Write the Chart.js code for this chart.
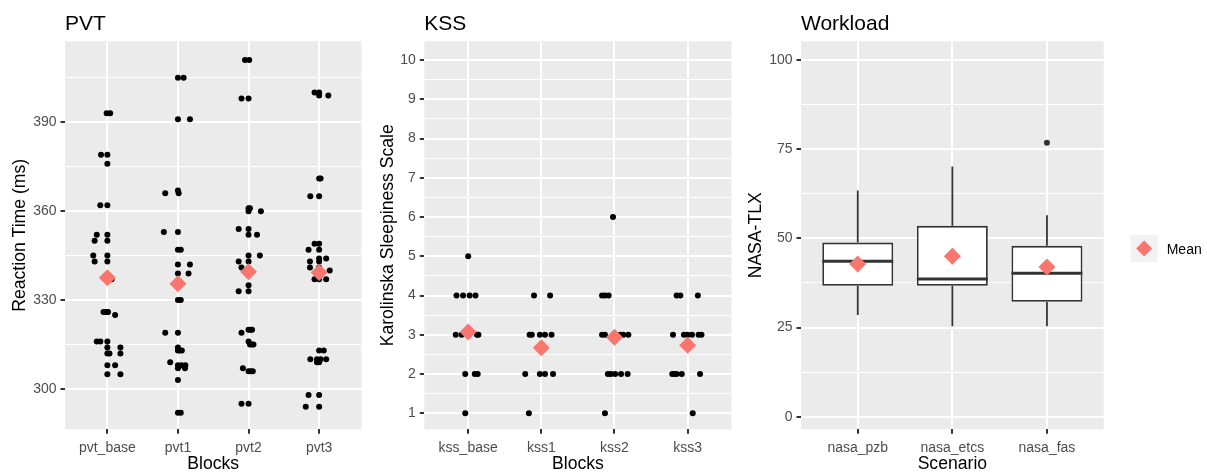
<!DOCTYPE html>
<html>
<head>
<meta charset="utf-8">
<script src="https://cdn.jsdelivr.net/npm/chart.js@4.4.1/dist/chart.umd.min.js"></script>
<style>
  body { margin: 0; background: #fff; }
  #wrap { position: relative; width: 1207px; height: 475px; }
  canvas { position: absolute; top: 0; }
</style>
</head>
<body>
<div id="wrap">
  <canvas id="pvt" width="370" height="475" style="left:0"></canvas>
  <canvas id="kss" width="370" height="475" style="left:370px"></canvas>
  <canvas id="nasa" width="467" height="475" style="left:740px"></canvas>
</div>
<script>
// PVT reaction times per block, each point is [ms, horizontal jitter]
const pvtBlocks = ['pvt_base', 'pvt1', 'pvt2', 'pvt3'];
const pvtBase = [[393,-0.01],[393,0.04],[379,-0.09],[379,0],[376,0],[362,-0.1],[362,0],[352,-0.15],[352,0],
  [350,-0.18],[350,0],[345,-0.2],[345,0],[343,-0.18],[343,0],[337,0.06],[326,-0.055],[326,-0.02],[326,0.01],
  [325,0.11],[316,-0.15],[316,-0.1],[316,0],[314,0],[314,0.185],[312,0],[312,0.03],[312,0.185],[308,0],
  [308,0.11],[305,0],[305,0.185]];
const pvt1 = [[405,0],[405,0.08],[391,0],[391,0.17],[366,-0.18],[367,0],[366,0.01],[353,-0.2],[353,0],
  [347,0],[347,0.04],[342,0],[342,0.17],[339,0],[339,0.15],[334.5,0],[330,0],[330,0.04],[319,-0.18],[319,0],
  [314,0],[313,0.02],[313,0.055],[313,0],[309,-0.11],[308,0],[308,0.05],[308,0.105],[307,0],[307,0.1],
  [303,0],[292,0],[292,0.04]];
const pvt2 = [[411,-0.05],[411,0.01],[398,-0.1],[398,0],[361,0],[361,0.02],[360,0],[360,0.175],[354,-0.14],
  [354,0],[352,0],[352,0.12],[345,0],[345,0.16],[343,-0.14],[343,0],[341,-0.1],[335,0],[333,-0.14],[333,0],
  [320,0],[320,0.03],[320,0.05],[319,-0.1],[316,0],[315,0.02],[315,0.05],[315,0.07],[307,-0.08],[306,0],
  [306,0.03],[306,0.06],[295,-0.1],[295,0]];
const pvt3 = [[400,-0.065],[400,0],[399,0],[399,0.13],[371,0],[371,0.02],[365,-0.125],[365,0],[349,-0.065],
  [349,0],[347,-0.15],[347,0],[344,0],[344,0.1],[343,-0.13],[343,0],[341,-0.13],[341,0],[340,0.15],
  [337,-0.065],[337,0],[337,0.1],[313,0],[313,0.065],[310,-0.125],[310,-0.03],[310,0.02],[310,0.1],
  [309,-0.03],[309,0],[298,-0.15],[298,0],[294,-0.19],[294,0]];
const pvtTicks = [300, 330, 360, 390];
const pvtMinor = [315, 345, 375, 405];

// KSS ratings per block, [score, horizontal jitter]
const kssBlocks = ['kss_base', 'kss1', 'kss2', 'kss3'];
const kssBase = [[5,0],[4,-0.16],[4,-0.07],[4,0.02],[4,0.1],[3,-0.17],[3,-0.09],[3,0],[3,0.12],[3,0.14],
  [2,-0.04],[2,0.09],[2,0.13],[1,-0.04]];
const kss1 = [[4,-0.1],[4,0.12],[3,-0.16],[3,-0.13],[3,-0.02],[3,0.05],[3,0.14],[2,-0.22],[2,-0.02],
  [2,0.05],[2,0.16],[1,-0.17]];
const kss2 = [[6,-0.02],[4,-0.17],[4,-0.13],[4,-0.08],[3,-0.17],[3,-0.13],[3,0.08],[3,0.12],[3,0.19],
  [2,-0.09],[2,-0.05],[2,0.01],[2,0.09],[2,0.18],[1,-0.13]];
const kss3 = [[4,-0.15],[4,-0.1],[4,0.14],[3,-0.2],[3,-0.05],[3,0],[3,0.06],[3,0.15],[3,0.19],[2,-0.21],
  [2,-0.18],[2,-0.15],[2,-0.08],[2,0.17],[1,0.07]];
const kssTicks = [1, 2, 3, 4, 5, 6, 7, 8, 9, 10];
const kssMinor = [1.5, 2.5, 3.5, 4.5, 5.5, 6.5, 7.5, 8.5, 9.5];

// NASA-TLX box summaries per scenario
const nasaScenarios = ['nasa_pzb', 'nasa_etcs', 'nasa_fas'];
const nasaLower = [28.5, 25.4, 25.4];
const nasaQ1 = [36.7, 36.7, 32.2];
const nasaMedian = [43.6, 38.6, 40.2];
const nasaQ3 = [48.8, 53.5, 47.9];
const nasaUpper = [63.4, 70.1, 56.5];
const nasaMean = [42.8, 45.0, 42.0];
const nasaOutliers = [[], [], [76.8]];
const nasaTicks = [0, 25, 50, 75, 100];
const nasaMinor = [12.5, 37.5, 62.5, 87.5];

const FONT = '"Liberation Sans", Arial, sans-serif';
const GREY = '#4d4d4d';
const MEAN_RED = '#F8766D';
const DOT_R = 3;
const MEAN_R = 8.5;
const PANEL_TOP = 41.3, PANEL_BOTTOM = 429.3, H = 475;
Chart.defaults.font.family = FONT;

const mean = arr => arr.reduce((s, p) => s + p[0], 0) / arr.length;

// grey panel behind the grid
const panelBg = {
  id: 'panelBg',
  beforeDraw(chart) {
    const { ctx, chartArea: a } = chart;
    ctx.save();
    ctx.fillStyle = '#ebebeb';
    ctx.fillRect(a.left, a.top, a.right - a.left, a.bottom - a.top);
    ctx.restore();
  }
};

// left-aligned panel title
const panelTitle = {
  id: 'panelTitle',
  afterDraw(chart, args, opts) {
    const ctx = chart.ctx;
    ctx.save();
    ctx.font = '21px ' + FONT;
    ctx.fillStyle = '#000';
    ctx.textBaseline = 'alphabetic';
    ctx.fillText(opts.text, chart.chartArea.left, 30);
    ctx.restore();
  }
};

function yAxis(o) {
  const isMajor = v => o.majors.some(m => Math.abs(m - v) < 1e-6);
  return {
    type: 'linear', min: o.min, max: o.max, offset: false,
    afterBuildTicks: s => { s.ticks = o.majors.concat(o.minors).sort((a, b) => a - b).map(v => ({ value: v })); },
    afterFit: s => { s.width = o.width; },
    ticks: { autoSkip: false, padding: 4, color: GREY, font: { size: 14 }, callback: v => isMajor(v) ? String(v) : '' },
    grid: {
      offset: false,
      color: '#fff',
      lineWidth: c => (c.tick && isMajor(c.tick.value)) ? 2 : 1.1,
      tickLength: 4.5,
      tickColor: c => (c.tick && isMajor(c.tick.value)) ? '#333' : 'rgba(0,0,0,0)',
      tickWidth: 2
    },
    border: { display: false },
    title: { display: true, text: o.title, color: '#000', font: { size: 17.6 }, padding: { top: o.titlePad, bottom: 0 } }
  };
}

function xAxis(labels, title) {
  return {
    type: 'linear', min: 0.4, max: labels.length + 0.6, offset: false,
    afterBuildTicks: s => { s.ticks = labels.map((_, i) => ({ value: i + 1 })); },
    afterFit: s => { s.height = H - PANEL_BOTTOM; },
    ticks: { autoSkip: false, maxRotation: 0, padding: 6, color: GREY, font: { size: 14 }, callback: v => labels[Math.round(v) - 1] },
    grid: { offset: false, color: '#fff', lineWidth: 2, tickLength: 4.5, tickColor: '#333', tickWidth: 2 },
    border: { display: false },
    title: { display: true, text: title, color: '#000', font: { size: 17.6 }, padding: { top: 0, bottom: 0 } }
  };
}

const baseOptions = (title, padRight) => ({
  responsive: false, animation: false, events: [], devicePixelRatio: 1,
  layout: { padding: { top: PANEL_TOP, right: padRight, left: 0, bottom: 0 } },
  plugins: { legend: { display: false }, tooltip: { enabled: false }, panelTitle: { text: title } }
});

// jittered dots with the block mean as a diamond on top
function dotChart(id, title, blocks, groups, y, padRight) {
  const points = [];
  groups.forEach((g, i) => g.forEach(([v, j]) => points.push({ x: i + 1 + j, y: v })));
  const means = groups.map((g, i) => ({ x: i + 1, y: mean(g) }));
  const options = baseOptions(title, padRight);
  options.scales = { x: xAxis(blocks, 'Blocks'), y: yAxis(y) };
  new Chart(document.getElementById(id), {
    type: 'scatter',
    data: {
      datasets: [
        { label: 'Mean', data: means, order: 0, pointStyle: 'rectRot', pointRadius: MEAN_R, backgroundColor: MEAN_RED, borderWidth: 0 },
        { label: 'obs', data: points, order: 1, pointRadius: DOT_R, backgroundColor: '#000', borderWidth: 0 }
      ]
    },
    options,
    plugins: [panelBg, panelTitle]
  });
}

dotChart('pvt', 'PVT', pvtBlocks, [pvtBase, pvt1, pvt2, pvt3],
  { min: 286.4, max: 417.3, majors: pvtTicks, minors: pvtMinor, width: 65, titlePad: 10, title: 'Reaction Time (ms)' }, 2);

dotChart('kss', 'KSS', kssBlocks, [kssBase, kss1, kss2, kss3],
  { min: 0.59, max: 10.48, majors: kssTicks, minors: kssMinor, width: 54.3, titlePad: 8, title: 'Karolinska Sleepiness Scale' }, 4.3);

// whiskers under the boxes, median lines right after the boxes
const boxParts = {
  id: 'boxParts',
  beforeDatasetsDraw(chart) {
    const { ctx, scales: { x, y } } = chart;
    ctx.save();
    ctx.strokeStyle = '#333';
    ctx.lineWidth = 1.8;
    nasaQ1.forEach((q, i) => {
      const px = x.getPixelForValue(i + 1);
      ctx.beginPath();
      ctx.moveTo(px, y.getPixelForValue(nasaLower[i]));
      ctx.lineTo(px, y.getPixelForValue(q));
      ctx.moveTo(px, y.getPixelForValue(nasaQ3[i]));
      ctx.lineTo(px, y.getPixelForValue(nasaUpper[i]));
      ctx.stroke();
    });
    ctx.restore();
  },
  afterDatasetDraw(chart, args) {
    if (args.meta.type !== 'bar') return;
    const { ctx, scales: { y } } = chart;
    ctx.save();
    ctx.strokeStyle = '#333';
    ctx.lineWidth = 3;
    args.meta.data.forEach((bar, i) => {
      const { x: cx, width } = bar.getProps(['x', 'width'], true);
      const py = y.getPixelForValue(nasaMedian[i]);
      ctx.beginPath();
      ctx.moveTo(cx - width / 2, py);
      ctx.lineTo(cx + width / 2, py);
      ctx.stroke();
    });
    ctx.restore();
  }
};

// "Mean" key to the right of the workload panel
const meanKey = {
  id: 'meanKey',
  afterDraw(chart) {
    const { ctx, chartArea: a } = chart;
    const kx = a.right + 27, ky = 235;
    ctx.save();
    ctx.fillStyle = '#f2f2f2';
    ctx.fillRect(kx, ky, 27, 27);
    ctx.fillStyle = MEAN_RED;
    Chart.helpers.drawPoint(ctx, { pointStyle: 'rectRot', radius: 8, borderWidth: 0, rotation: 0 }, kx + 13.5, ky + 13.5);
    ctx.fillStyle = '#000';
    ctx.font = '14px ' + FONT;
    ctx.textBaseline = 'middle';
    ctx.fillText('Mean', kx + 36, ky + 15);
    ctx.restore();
  }
};

const nasaOptions = baseOptions('Workload', 103.3);
nasaOptions.scales = {
  x: xAxis(nasaScenarios, 'Scenario'),
  y: yAxis({ min: -3.5, max: 105.2, majors: nasaTicks, minors: nasaMinor, width: 61, titlePad: 6, title: 'NASA-TLX' })
};

new Chart(document.getElementById('nasa'), {
  type: 'scatter',
  data: {
    datasets: [
      { label: 'Mean', data: nasaMean.map((v, i) => ({ x: i + 1, y: v })), order: 0,
        pointStyle: 'rectRot', pointRadius: MEAN_R, backgroundColor: MEAN_RED, borderWidth: 0 },
      { label: 'outliers', data: nasaOutliers.flatMap((o, i) => o.map(v => ({ x: i + 1, y: v }))), order: 1,
        pointRadius: DOT_R, backgroundColor: '#333', borderWidth: 0 },
      { type: 'bar', label: 'box', data: nasaQ1.map((q, i) => ({ x: i + 1, y: [q, nasaQ3[i]] })), order: 2,
        backgroundColor: '#fff', borderColor: '#333', borderWidth: 1.8, borderSkipped: false,
        barPercentage: 0.75, categoryPercentage: 1 }
    ]
  },
  options: nasaOptions,
  plugins: [panelBg, panelTitle, boxParts, meanKey]
});
</script>
</body>
</html>
